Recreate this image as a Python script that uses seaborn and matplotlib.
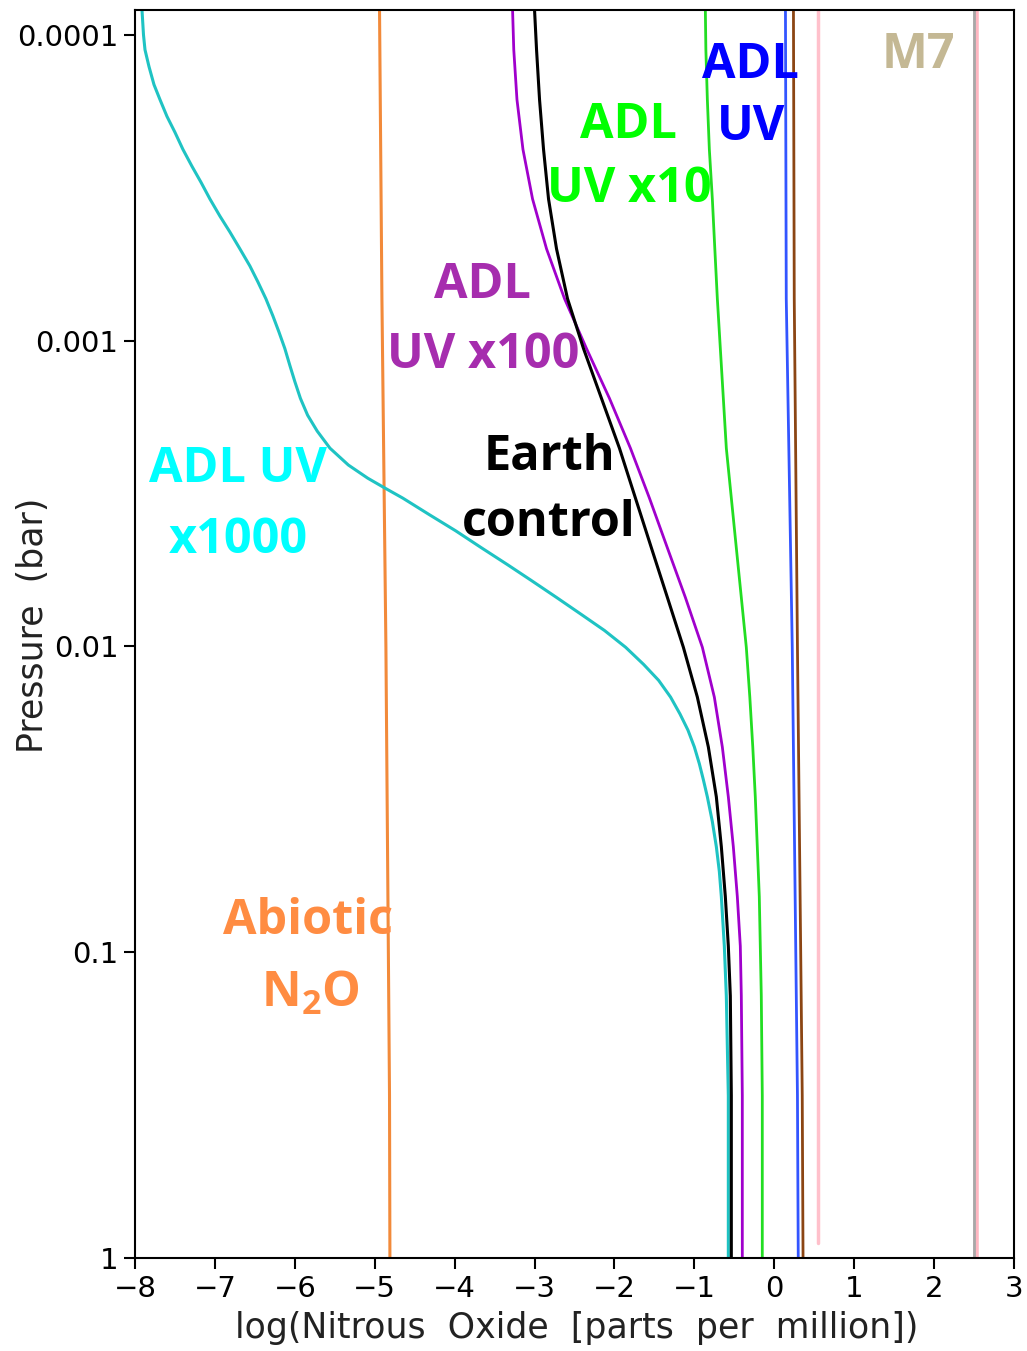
import numpy as np
import pandas as pd
import matplotlib
matplotlib.use("Agg")
import matplotlib.pyplot as plt
import seaborn as sns

# ---------------- data ----------------
# ADL UV x1000 (cyan): log10 pressure [bar] and log10 N2O [ppm]
logp_cyan = [-4.081, -4.000, -3.951, -3.896, -3.837, -3.788, -3.733, -3.681, -3.625, -3.570,
             -3.518, -3.463, -3.407, -3.355, -3.300, -3.244, -3.192, -3.137, -3.081, -3.029,
             -2.974, -2.919, -2.866, -2.811, -2.756, -2.704, -2.648, -2.593, -2.550, -2.518,
             -2.485, -2.430, -2.378, -2.322, -2.267, -2.215, -2.160, -2.104, -2.052, -1.997,
             -1.941, -1.889, -1.834, -1.779, -1.726, -1.671, -1.616, -1.564, -1.508, -1.427,
             -1.345, -1.264, -1.182, -1.020, -0.857, -0.694, -0.531, 0.0]
x_cyan = [-7.9125, -7.8938, -7.875, -7.825, -7.7625, -7.6875, -7.6, -7.5, -7.4, -7.2875,
          -7.175, -7.0625, -6.9375, -6.8125, -6.6875, -6.5625, -6.4625, -6.3625, -6.275, -6.2,
          -6.125, -6.0625, -6.0, -5.93, -5.84, -5.72, -5.56, -5.33, -5.0875, -4.875,
          -4.65, -4.3125, -3.9875, -3.6625, -3.3375, -3.0375, -2.725, -2.4125, -2.125, -1.86,
          -1.635, -1.4475, -1.2975, -1.18, -1.08, -1.0, -0.9375, -0.8875, -0.8375, -0.775,
          -0.725, -0.6875, -0.6625, -0.625, -0.6, -0.5875, -0.575, -0.575]

# common pressure grid for black / purple / green
logp_grid = [-4.081, -3.951, -3.788, -3.625, -3.463, -3.300, -3.137, -2.974, -2.811, -2.648,
             -2.485, -2.322, -2.160, -1.997, -1.834, -1.671, -1.508, -1.345, -1.182, -1.020,
             -0.857, -0.531, 0.0]
# Earth control (black)
x_black = [-3.0, -2.975, -2.9375, -2.8875, -2.825, -2.725, -2.5875, -2.3875, -2.1625, -1.9375,
           -1.7375, -1.5375, -1.3375, -1.1375, -0.9625, -0.825, -0.725, -0.6625, -0.6125, -0.575,
           -0.55, -0.5375, -0.5375]
# ADL UV x100 (purple)
x_purple = [-3.275, -3.26, -3.22, -3.145, -3.025, -2.85, -2.625, -2.35, -2.0625, -1.8,
            -1.5625, -1.3375, -1.1125, -0.9, -0.75, -0.65, -0.575, -0.5125, -0.4625, -0.425,
            -0.4125, -0.4, -0.4]
# ADL UV x10 (green)
x_green = [-0.8625, -0.856, -0.8375, -0.8125, -0.775, -0.744, -0.7125, -0.675, -0.6375, -0.6,
           -0.5375, -0.475, -0.4125, -0.35, -0.306, -0.269, -0.2375, -0.2125, -0.1875, -0.175,
           -0.1625, -0.15, -0.15]

# nearly vertical profiles
logp_vert = [-4.081, -3.137, -1.997, -0.531, 0.0]
x_blue = [0.14, 0.15, 0.225, 0.29, 0.30]       # ADL UV
x_brown = [0.24, 0.25, 0.29, 0.35, 0.36]
x_orange = [-4.94, -4.91, -4.86, -4.815, -4.81]  # Abiotic N2O

logp_pink = [-4.081, -0.049]
x_pink = [0.55, 0.55]
logp_m7 = [-4.081, 0.0]
x_m7 = [2.50, 2.50]
x_m7_pink = [2.52, 2.52]

x_ticks = [-8, -7, -6, -5, -4, -3, -2, -1, 0, 1, 2, 3]
y_ticks = [1e-4, 1e-3, 1e-2, 1e-1, 1]
y_ticklabels = ["0.0001", "0.001", "0.01", "0.1", "1"]

# ---------------- plot ----------------
sns.set_theme(style="white")
plt.rcParams['font.family'] = ['DejaVu Sans']
plt.rcParams['mathtext.fontset'] = 'custom'
plt.rcParams['mathtext.rm'] = 'Open Sans:bold'
plt.rcParams['mathtext.bf'] = 'Open Sans:bold'

fig = plt.figure(figsize=(10.27, 13.51), dpi=100)
ax = fig.add_axes([135/1027, 1 - 1258/1351, (1014-135)/1027, (1258-10)/1351])

series = [
    (x_m7_pink, logp_m7, "#FFB6C1", 4.0),
    (x_m7, logp_m7, "#A8A8A8", 2.0),
    (x_pink, logp_pink, "#FFC0CB", 2.5),
    (x_brown, logp_vert, "#8B4513", 2.0),
    (x_blue, logp_vert, "#3355FF", 2.0),
    (x_green, logp_grid, "#22DD22", 2.0),
    (x_orange, logp_vert, "#F28A3A", 2.2),
    (x_cyan, logp_cyan, "#1FC3C3", 2.2),
    (x_purple, logp_grid, "#A000CC", 2.0),
    (x_black, logp_grid, "#000000", 2.2),
]
for xs, lps, col, lw in series:
    df = pd.DataFrame({"x": xs, "p": 10.0 ** np.asarray(lps)})
    sns.lineplot(data=df, x="x", y="p", sort=False, estimator=None,
                 color=col, lw=lw, ax=ax)

ax.set_yscale('log')
ax.set_xlim(-8, 3)
ax.set_ylim(1.0, 8.3e-5)
ax.set_xticks(x_ticks)
ax.set_xticklabels([str(t).replace('-', '\u2212') for t in x_ticks])
ax.set_yticks(y_ticks)
ax.set_yticklabels(y_ticklabels)
ax.yaxis.set_minor_locator(matplotlib.ticker.NullLocator())
ax.tick_params(axis='both', which='major', direction='out', length=8, width=1.5,
               color='black', labelsize=21, pad=4, left=True, bottom=True,
               labelcolor='black')
for s in ax.spines.values():
    s.set_color('black')
    s.set_linewidth(1.5)
ax.set_xlabel("")
ax.set_ylabel("")

# axis titles placed in figure pixels
fig.text(577/1027, 1 - 1328/1351, "log(Nitrous  Oxide  [parts  per  million])",
         fontsize=25, color='#222222', ha='center', va='center')
fig.text(33/1027, 1 - 625/1351, "Pressure  (bar)", rotation=90,
         fontsize=25, color='#222222', ha='center', va='center')

# ---------------- annotations ----------------
def lab(x, y, s, c, size=35):
    fig.text(x/1027, 1 - y/1351, s, color=c, fontsize=size, fontweight='bold',
             family='Open Sans', ha='center', va='center', zorder=10)

lab(238, 470, "ADL UV", "#00FFFF")
lab(238, 540, "x1000", "#00FFFF")
lab(308, 922, "Abiotic", "#FF8C42")
lab(310, 994, "N$_{\\mathrm{2}}$O", "#FF8C42")
lab(483, 285, "ADL", "#A62DAE")
lab(483, 355, "UV x100", "#A62DAE")
lab(549, 457, "Earth", "#000000")
lab(549, 523, "control", "#000000")
lab(629, 126, "ADL", "#00FF00")
lab(629, 189, "UV x10", "#00FF00")
lab(751, 66, "ADL", "#0000FF")
lab(751, 128, "UV", "#0000FF")
lab(918, 56, "M7", "#C4B894")

fig.savefig("out.png", dpi=100)
